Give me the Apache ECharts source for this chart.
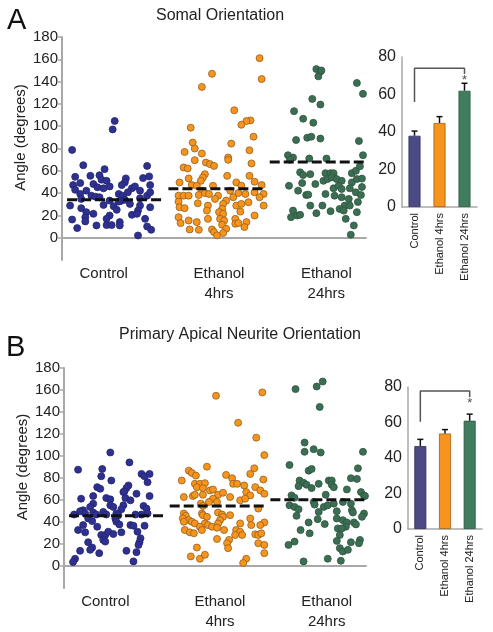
<!DOCTYPE html>
<html>
<head>
<meta charset="utf-8">
<script src="https://cdn.jsdelivr.net/npm/echarts@6/dist/echarts.min.js"></script>
<style>html,body{margin:0;padding:0;background:#fff}#c{width:493px;height:632px}</style>
</head>
<body>
<div id="c"></div>
<script>
// ---------- DATA ----------
const groupLabels = ['Control', 'Ethanol\n4hrs', 'Ethanol\n24hrs'];
const barLabels = ['Control', 'Ethanol 4hrs', 'Ethanol 24hrs'];
const angleTicks = [0, 20, 40, 60, 80, 100, 120, 140, 160, 180];

// points: [horizontal jitter within group (category units), angle in degrees]
const somalControl = [[0.02,104.7],[0.00,97.1],[-0.40,78.7],[-0.29,65],[-0.08,61.5],[0.34,64.4],[-0.37,54.6],[-0.22,55.5],[-0.13,56],[-0.11,52],[-0.06,51],[-0.03,46],[0.13,53.2],[0.12,49.6],[0.30,53.5],[0.36,55],[0.37,47.2],[-0.39,47.2],[-0.32,49],[-0.19,48.1],[-0.15,45.2],[-0.09,44.3],[-0.26,42.2],[-0.37,43],[0.09,47.2],[0.19,44.3],[0.22,46],[0.27,42.2],[0.15,40.7],[-0.32,39.2],[-0.21,37.7],[0.06,39.2],[0.10,37.7],[0.34,37.7],[-0.17,36.8],[-0.13,36.3],[-0.31,34.8],[0.27,35.4],[0.08,33],[0.12,34],[0.06,32.4],[-0.03,33.3],[-0.42,28.8],[-0.09,29.4],[0.01,28.2],[0.17,30.3],[0.37,27.3],[-0.31,26.5],[0.27,28.8],[-0.26,22.9],[0.25,24.3],[0.04,25],[-0.19,21.4],[-0.27,18.4],[-0.03,19.9],[0.19,20.5],[0.24,21.4],[-0.40,16.3],[-0.06,16.9],[0.32,16.9],[0.07,14],[0.07,11],[-0.27,14.6],[-0.16,11],[-0.06,11.3],[-0.01,11.3],[-0.35,8.6],[0.34,10.1],[0.38,7.1],[0.25,2],[0.37,40.7]];
const somal4h = [[0.45,161],[0.47,142.3],[-0.02,147],[-0.12,135.2],[0.20,114.3],[0.36,105.2],[0.32,104.6],[0.27,101.3],[-0.23,98.7],[0.39,90.6],[-0.21,85.3],[0.17,84.4],[-0.19,80],[-0.29,76.9],[-0.12,75.5],[0.35,78.4],[0.14,71.9],[0.14,69.8],[-0.19,69.5],[-0.08,67.4],[-0.04,66],[0.00,64.4],[0.37,66.6],[-0.30,63],[-0.26,62.1],[0.13,55.5],[-0.09,57],[-0.11,54],[-0.13,51],[0.35,55.5],[-0.25,53.2],[0.40,50.2],[-0.34,49.6],[-0.22,47.2],[-0.17,46.6],[-0.01,46.6],[0.22,49.6],[0.27,46.6],[0.47,47.2],[-0.12,42.2],[0.16,42.2],[-0.35,37.7],[-0.30,37.7],[-0.25,37.7],[-0.15,38.3],[-0.09,40.1],[-0.05,39.2],[0.04,37.7],[0.19,36.3],[0.24,40.1],[0.31,39.2],[0.40,40.7],[0.49,39.2],[0.45,36.3],[-0.35,32.4],[0.01,34.8],[0.12,33.3],[0.09,30.3],[0.34,31.8],[-0.16,30.9],[-0.06,28.8],[-0.34,27.3],[-0.29,26.5],[0.22,28.8],[0.27,30.3],[0.49,28.8],[0.08,25.8],[0.05,22.9],[0.09,21.4],[-0.07,24.3],[0.26,23.4],[-0.35,18.4],[0.06,16.9],[0.10,15.4],[0.21,16.9],[0.40,19.9],[-0.06,16.9],[-0.25,15.4],[-0.17,14],[-0.33,13.1],[0.21,12.5],[0.24,13.1],[0.32,14],[0.08,11.6],[0.30,9.5],[-0.24,7.4],[-0.15,7.1],[0.12,8],[0.09,4.2],[-0.02,7.4],[0.00,5.1],[0.03,2.1]];
const somal24h = [[0.01,151.2],[0.05,149.1],[0.03,144.7],[0.06,150],[0.41,138.8],[0.47,129],[-0.03,124.5],[0.05,119.4],[-0.21,113.5],[-0.12,106.7],[-0.02,103.1],[-0.19,87.6],[-0.08,89.7],[-0.04,90.6],[0.05,88.9],[0.43,86.7],[-0.27,74],[-0.22,71.9],[-0.06,71],[0.11,71],[0.47,74],[-0.25,70],[-0.15,58.6],[-0.12,56.2],[-0.05,57],[0.10,57.9],[0.15,57.9],[0.18,57.9],[0.36,57.9],[0.40,60],[0.44,64],[-0.26,46.6],[-0.13,49],[0.00,48.1],[0.08,51],[0.12,52.6],[0.16,54.1],[0.21,52.6],[0.26,51],[0.36,49.6],[0.41,52.6],[0.46,53],[-0.17,42.2],[-0.09,38.3],[-0.07,38.6],[0.10,39.2],[0.18,44.3],[0.23,46.6],[0.26,43.7],[0.19,37.7],[0.26,36.3],[0.33,34.8],[0.34,44.3],[0.40,40.7],[0.46,45.5],[0.45,38.3],[-0.05,28.8],[0.07,28.8],[0.29,28.8],[0.34,28.8],[0.42,32],[-0.22,24.3],[0.01,22],[0.15,23.8],[0.24,25.8],[0.28,24.3],[-0.24,18.4],[-0.18,19.9],[-0.15,20.5],[0.41,22.9],[0.30,16.9],[0.38,11],[0.35,2.7]];

const apicalControl = [[-0.04,103.2],[0.15,94.2],[-0.36,87.6],[-0.12,88.2],[-0.13,81.6],[0.27,83.7],[0.30,81.6],[0.35,83.7],[0.33,76.2],[-0.03,77.7],[-0.17,71.7],[-0.14,70.2],[0.14,73.2],[0.12,70.8],[0.09,67.2],[0.10,67.8],[0.22,65.7],[0.35,63.6],[-0.33,61.2],[-0.21,63.6],[-0.08,61.8],[-0.04,60.6],[0.11,61.8],[0.16,59.7],[-0.21,56.7],[-0.24,53.7],[-0.04,55.2],[-0.01,53.7],[0.29,54.6],[0.32,52.2],[0.09,55.2],[0.07,51.6],[-0.31,50.7],[-0.34,49.8],[-0.29,47.7],[-0.40,46.8],[-0.21,48.6],[-0.18,46.8],[-0.11,49.2],[-0.08,46.8],[0.02,47.7],[0.04,46.2],[0.21,46.8],[0.27,46.8],[0.33,47.7],[-0.26,43.2],[-0.22,40.8],[0.01,43.2],[0.02,40.2],[0.05,37.8],[-0.31,37.2],[-0.36,32.7],[-0.17,35.7],[0.16,37.2],[0.19,36.6],[0.30,36.6],[-0.29,30.6],[-0.13,28.2],[-0.09,28.2],[-0.06,31.2],[-0.01,29.1],[0.07,30.6],[0.23,31.2],[-0.11,23.7],[-0.09,22.2],[0.26,25.2],[0.25,21.6],[0.24,19.2],[-0.26,21.6],[-0.22,16.8],[-0.24,14.7],[-0.15,11.7],[0.12,13.8],[0.22,12.6],[-0.34,13.8],[0.19,4.2],[-0.39,6.6],[-0.41,3.6]];
const apical4h = [[0.01,154.8],[0.47,157.8],[0.23,130.2],[0.41,116.7],[0.49,100.8],[-0.08,90.3],[-0.26,86.7],[-0.23,84.6],[-0.19,82.2],[-0.33,77.7],[0.39,88.8],[0.35,83.7],[0.11,82.8],[0.17,79.8],[0.18,74.7],[0.22,74.7],[0.48,78.6],[-0.20,74.7],[-0.15,74.7],[-0.10,75.3],[-0.18,71.7],[-0.12,70.8],[-0.05,68.7],[-0.02,69.6],[0.29,73.2],[0.40,71.7],[0.45,68.7],[0.49,65.7],[-0.31,62.7],[-0.22,63.6],[-0.20,64.8],[-0.12,64.8],[0.03,64.8],[0.08,66.6],[0.15,62.7],[0.31,67.2],[0.35,64.2],[-0.02,61.2],[0.02,58.2],[-0.06,58.2],[0.25,59.7],[0.30,61.2],[-0.14,56.7],[-0.12,54.6],[0.43,52.2],[-0.31,47.7],[-0.29,45.6],[-0.32,43.2],[-0.13,47.7],[-0.12,46.2],[-0.08,44.7],[0.03,48.6],[0.07,46.8],[0.08,44.7],[0.05,41.7],[0.15,46.2],[-0.26,41.7],[-0.23,40.2],[-0.20,38.7],[-0.31,40.2],[-0.10,38.7],[-0.07,37.2],[-0.03,35.7],[0.03,38.7],[0.02,34.8],[0.25,38.7],[0.35,43.2],[0.36,37.2],[0.49,39.6],[0.45,37.2],[-0.30,32.7],[-0.25,30.6],[-0.21,29.7],[-0.15,35.7],[-0.13,32.7],[0.09,32.7],[0.21,32.7],[0.25,31.2],[0.27,28.2],[0.20,28.2],[0.40,28.8],[0.43,28.2],[0.46,29.7],[0.02,24.6],[0.14,23.7],[0.12,20.7],[0.13,16.2],[0.43,20.7],[0.49,19.2],[-0.18,16.8],[-0.24,8.7],[-0.15,6.6],[-0.10,10.2],[0.49,11.7],[0.31,6.6],[0.28,2.7]];
const apical24h = [[-0.20,160.8],[0.01,163.2],[0.07,167.7],[0.04,144.6],[-0.11,112.2],[-0.11,103.8],[-0.02,106.2],[0.05,103.2],[0.47,103.8],[-0.26,91.8],[-0.07,86.7],[-0.04,88.2],[0.42,88.8],[-0.16,77.7],[-0.12,75.6],[-0.17,72.6],[-0.09,73.8],[-0.04,70.8],[0.03,74.7],[0.13,77.7],[0.16,77.7],[0.16,73.8],[0.18,71.7],[0.35,79.8],[0.41,79.2],[0.31,69.6],[0.45,67.2],[0.48,64],[-0.24,64.2],[-0.21,62.1],[0.10,64.8],[0.49,63.6],[-0.26,55.2],[-0.21,53.7],[-0.17,51.6],[-0.02,58.2],[-0.01,55.8],[0.08,53.7],[0.12,55.2],[0.18,56.7],[0.27,58.2],[0.35,56.7],[0.36,50.7],[0.37,48.6],[-0.19,45.6],[0.03,49.2],[0.21,49.8],[0.27,41.7],[0.31,39.6],[0.30,35.7],[0.48,47.7],[0.46,44.7],[-0.07,39.6],[0.02,42.6],[0.09,38.1],[0.38,39.6],[0.40,37.8],[0.21,43.2],[0.22,34.2],[0.26,34.2],[-0.15,32.7],[-0.06,29.7],[0.24,28.2],[0.21,22.8],[0.35,21.6],[0.44,23.7],[0.43,20.7],[-0.27,19.2],[-0.21,22.2],[0.24,16.2],[0.27,13.2],[0.32,14.7],[-0.12,4.2],[0.12,6.6],[0.25,4.8]];

const somalMeans = [34, 44, 68];
const apicalMeans = [45.6, 54.6, 60.3];

const somalBarMeans = [38, 44.8, 62];
const somalBarErr = [2.5, 3.4, 4];
const apicalBarMeans = [46.7, 53.8, 61];
const apicalBarErr = [3.8, 2.2, 3.7];
const barTicks = [0, 20, 40, 60, 80];

// significance bracket: [left leg end, top, right leg end, star level]
const somalBracket = [56, 74, 71, 67.5];
const apicalBracket = [60.4, 77.8, 74.4, 70.5];

// ---------- STYLE ----------
const FONT = 'Liberation Sans, Arial, sans-serif';
const dotColors = ['#2e3190', '#f7941d', '#3c6e53'];
const dotBorders = ['#232570', '#94601c', '#2c5540'];
const barColors = ['#4b4a85', '#f7941d', '#3f7d5e'];
const barBorders = ['#2f2e5e', '#a05f12', '#2a5840'];
const axisGray = '#a8a8a8';
const labelStyleKeys = ['g0', 'g1', 'g2'];

const chart = echarts.init(document.getElementById('c'), null, {renderer: 'canvas'});

function scatterAxes(gridIndex) {
  const base = {fontSize: 15, color: '#222', fontFamily: FONT, lineHeight: 20};
  return [
    {type: 'category', gridIndex, data: groupLabels,
     axisLine: {lineStyle: {color: axisGray, width: 2}}, axisTick: {show: false},
     axisLabel: {margin: 4, interval: 0, hideOverlap: false, ...base,
       formatter: (v, i) => v.split('\n').map(s => '{' + labelStyleKeys[i] + '|' + s + '}').join('\n'),
       rich: {
         g0: {...base, padding: [0, 18, 0, 0]},
         g1: {...base, padding: [0, 0, 0, 10]},
         g2: {...base, padding: [0, 0, 0, 22]}
       }}},
    {type: 'value', gridIndex, min: 0.5, max: 3.5, show: false}
  ];
}
function barXAxis(gridIndex) {
  return {type: 'category', gridIndex, data: barLabels,
    axisLine: {lineStyle: {color: axisGray, width: 1.5}}, axisTick: {show: false},
    axisLabel: {rotate: 90, fontSize: 11, color: '#222', fontFamily: FONT, margin: 6, interval: 0}};
}
function angleYAxis(gridIndex) {
  return {type: 'value', gridIndex, min: -20, max: 180, interval: 20,
    name: 'Angle (degrees)', nameLocation: 'middle', nameGap: 34, nameMoveOverlap: false,
    nameTextStyle: {fontSize: 15, color: '#222', fontFamily: FONT, padding: [0, 0, 0, 22]},
    axisLine: {show: true, lineStyle: {color: axisGray, width: 2}},
    axisTick: {show: true, length: 4, lineStyle: {color: axisGray, width: 1.5},
      customValues: angleTicks},
    splitLine: {show: false},
    axisLabel: {fontSize: 15, color: '#222', fontFamily: FONT, margin: 4,
      customValues: angleTicks,
      formatter: v => (angleTicks.indexOf(v) >= 0 ? String(v) : '')}};
}
function barYAxis(gridIndex) {
  return {type: 'value', gridIndex, min: 0, max: 80, interval: 20,
    axisLine: {show: true, lineStyle: {color: axisGray, width: 1.5}},
    axisTick: {show: false}, splitLine: {show: false},
    axisLabel: {fontSize: 16, color: '#222', fontFamily: FONT, margin: 6,
      formatter: v => (barTicks.indexOf(v) >= 0 ? String(v) : '')}};
}

function groupSeries(groups, means, xAxisIndex, yAxisIndex, size) {
  const out = [];
  groups.forEach((pts, i) => {
    out.push({type: 'scatter', xAxisIndex, yAxisIndex, symbolSize: size,
      itemStyle: {color: dotColors[i], borderColor: dotBorders[i], borderWidth: 0.8, opacity: 1},
      data: pts.map(p => [i + 1 + p[0], p[1]]), z: 2, silent: true});
  });
  means.forEach((m, i) => {
    out.push({type: 'line', xAxisIndex, yAxisIndex, symbol: 'none', z: 4, silent: true,
      lineStyle: {color: '#111', width: 3, type: [10, 4]},
      data: [[i + 1 - 0.45, m], [i + 1 + 0.5, m]]});
  });
  return out;
}

function barSeries(means, errs, bracket, xAxisIndex, yAxisIndex) {
  return [
    {type: 'bar', xAxisIndex, yAxisIndex, barWidth: 12, silent: true,
     data: means.map((v, i) => ({value: v, itemStyle: {color: barColors[i], borderColor: barBorders[i], borderWidth: 0.8}}))},
    {type: 'custom', xAxisIndex, yAxisIndex, silent: true, z: 5,
     data: means.map((v, i) => [i, v, errs[i]]),
     renderItem: (params, api) => {
       const base = api.coord([api.value(0), api.value(1)]);
       const top = api.coord([api.value(0), api.value(1) + api.value(2)]);
       const st = {stroke: '#111', lineWidth: 1.5};
       return {type: 'group', children: [
         {type: 'line', shape: {x1: base[0], y1: base[1], x2: top[0], y2: top[1]}, style: st},
         {type: 'line', shape: {x1: top[0] - 3, y1: top[1], x2: top[0] + 3, y2: top[1]}, style: st}
       ]};
     }},
    {type: 'line', xAxisIndex, yAxisIndex, symbol: 'none', silent: true, z: 5,
     lineStyle: {color: '#555', width: 1.5},
     data: [[barLabels[0], bracket[0]], [barLabels[0], bracket[1]], [barLabels[2], bracket[1]], [barLabels[2], bracket[2]]]},
    {type: 'scatter', xAxisIndex, yAxisIndex, symbolSize: 1, silent: true, z: 6,
     itemStyle: {color: 'rgba(0,0,0,0)'},
     label: {show: true, formatter: '*', position: 'inside', fontSize: 13, color: '#222', fontFamily: FONT},
     data: [[barLabels[2], bracket[3]]]}
  ];
}

const sA = scatterAxes(0), sB = scatterAxes(2);
const option = {
  animation: false,
  backgroundColor: '#fff',
  grid: [
    {left: 62, top: 37, width: 304, height: 223},
    {left: 402, top: 57, width: 75, height: 150},
    {left: 64, top: 368, width: 302, height: 220},
    {left: 408, top: 387, width: 74, height: 142}
  ],
  xAxis: [sA[0], sA[1], barXAxis(1), sB[0], sB[1], barXAxis(3)],
  yAxis: [angleYAxis(0), barYAxis(1), angleYAxis(2), barYAxis(3)],
  series: [].concat(
    groupSeries([somalControl, somal4h, somal24h], somalMeans, 1, 0, 7),
    barSeries(somalBarMeans, somalBarErr, somalBracket, 2, 1),
    groupSeries([apicalControl, apical4h, apical24h], apicalMeans, 4, 2, 7),
    barSeries(apicalBarMeans, apicalBarErr, apicalBracket, 5, 3)
  ),
  graphic: [
    {type: 'text', left: 7, top: 6, style: {text: 'A', fontSize: 29, fill: '#111', fontFamily: FONT}},
    {type: 'text', x: 220, y: 16, style: {text: 'Somal Orientation', fontSize: 16, fill: '#222', fontFamily: FONT, textAlign: 'center', textVerticalAlign: 'middle'}},
    {type: 'text', left: 6, top: 333, style: {text: 'B', fontSize: 29, fill: '#111', fontFamily: FONT}},
    {type: 'text', x: 240, y: 335, style: {text: 'Primary Apical Neurite Orientation', fontSize: 16, fill: '#222', fontFamily: FONT, textAlign: 'center', textVerticalAlign: 'middle'}}
  ]
};
chart.setOption(option);
</script>
</body>
</html>
